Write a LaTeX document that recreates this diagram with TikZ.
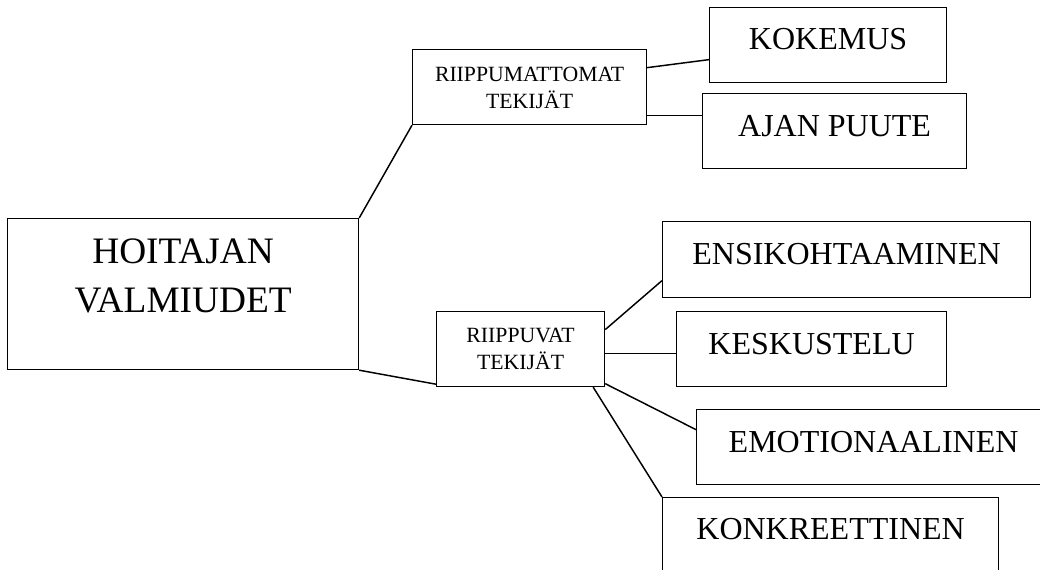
\documentclass[tikz,border=0pt]{standalone}
\usepackage{fontspec}
\setmainfont{Liberation Serif}
\usetikzlibrary{positioning}

\begin{document}
\begin{tikzpicture}[
  x=0.75pt, y=-0.75pt,
  every node/.style={
    rectangle,
    draw=black, line width=0.9pt,
    inner sep=0pt,
    anchor=north west,
    text centered,
    align=center
  },
  big node/.style={font=\fontsize{28}{36.75}\selectfont},
  mid node/.style={font=\fontsize{24}{28}\selectfont},
  small node/.style={font=\fontsize{16.3}{20.25}\selectfont},
  myline/.style={draw, line width=1.1pt, black}
  ]
\useasboundingbox (0,0) rectangle (1040,569);
\clip (0,0) rectangle (1040,569);
% main box
\node[big node, minimum width=263.25pt, text height=70.5pt, text depth=42.75pt] (hoit) at (7,218) {HOITAJAN\\VALMIUDET};
% the two groups
\begin{scope}[every node/.append style={small node}]
  \node[minimum width=175.5pt, text height=44.25pt, text depth=12pt] (indep) at (412,49) {RIIPPUMATTOMAT\\TEKIJÄT};
  \node[minimum width=126pt, text height=43.5pt, text depth=12.75pt] (dep) at (436,311) {RIIPPUVAT\\TEKIJÄT};
\end{scope}
% leaves
\begin{scope}[every node/.append style={mid node}]
  \node[minimum width=177.75pt, text height=31.5pt, text depth=24.75pt] (kokemus) at (709,7) {KOKEMUS};
  \node[minimum width=198pt, text height=32.25pt, text depth=24pt] (ajan) at (702,93) {AJAN PUUTE};
  \node[minimum width=276pt, text height=32.25pt, text depth=24.75pt] (ensi) at (662,221) {ENSIKOHTAAMINEN};
  \node[minimum width=202.5pt, text height=32.25pt, text depth=24pt] (kesk) at (676,311) {KESKUSTELU};
  \node[minimum width=265.5pt, text height=32.25pt, text depth=24pt] (emot) at (696,409) {EMOTIONAALINEN};
  \node[minimum width=252pt, text height=31.5pt, text depth=24.75pt] (konk) at (662,497) {KONKREETTINEN};
\end{scope}
\path[myline] (hoit.north east) edge (indep.south west)
              (hoit.south east) edge ([yshift=2.25pt]dep.south west);
\path[myline] ([yshift=14.6pt]indep.east) edge ([yshift=-10.9pt]kokemus.west)
              ([yshift=-21.4pt]indep.east) edge ([yshift=11.6pt]ajan.west);
\path[myline] ([yshift=14.6pt]dep.east) edge ([yshift=-15.75pt]ensi.west)
              ([yshift=-3.4pt]dep.east) edge ([yshift=-3.4pt]kesk.west)
              ([yshift=-25.9pt]dep.east) edge ([yshift=13.1pt]emot.west)
              ([xshift=-9pt]dep.south east) edge (konk.north west);
\end{tikzpicture}
\end{document}
